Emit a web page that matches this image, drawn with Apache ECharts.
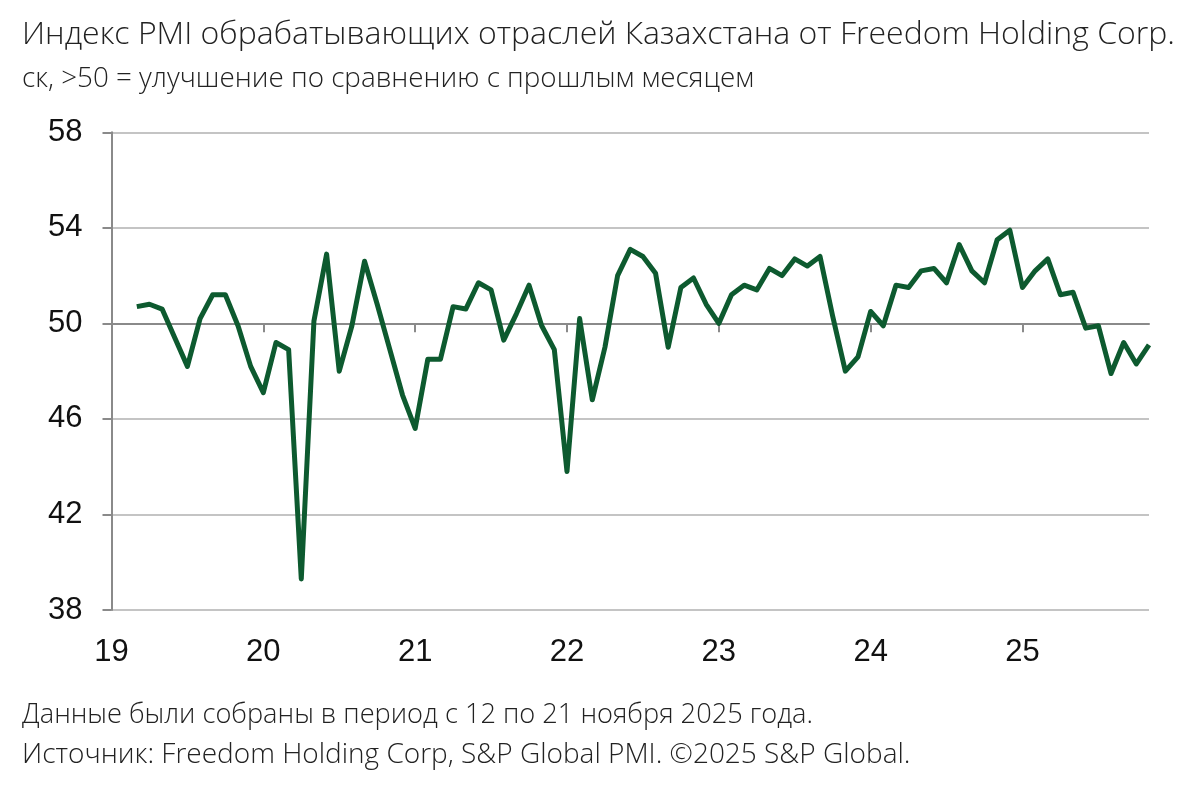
<!DOCTYPE html>
<html>
<head>
<meta charset="utf-8">
<script src="https://cdn.jsdelivr.net/npm/echarts@6/dist/echarts.min.js"></script>
<style>
  html, body { margin: 0; padding: 0; background: #fff; }
  #pmi_wrap { width: 1200px; height: 792px; }
</style>
</head>
<body>
<div id="pmi_wrap"></div>
<script>
// годы на оси и подписи к ним
var years = ['2019', '2020', '2021', '2022', '2023', '2024', '2025'];
var yearLabels = ['19', '20', '21', '22', '23', '24', '25'];
var lastMonth = 11; // ноябрь 2025

// PMI по месяцам, ряд начинается с марта 2019
var pmi2019 = [null, null, 50.7, 50.8, 50.6, 49.4, 48.2, 50.2, 51.2, 51.2, 49.9, 48.2];
var pmi2020 = [47.1, 49.2, 48.9, 39.3, 50.1, 52.9, 48.0, 49.9, 52.6, 50.8, 48.9, 47.0];
var pmi2021 = [45.6, 48.5, 48.5, 50.7, 50.6, 51.7, 51.4, 49.3, 50.4, 51.6, 49.9, 48.9];
var pmi2022 = [43.8, 50.2, 46.8, 49.0, 52.0, 53.1, 52.8, 52.1, 49.0, 51.5, 51.9, 50.8];
var pmi2023 = [50.0, 51.2, 51.6, 51.4, 52.3, 52.0, 52.7, 52.4, 52.8, 50.3, 48.0, 48.6];
var pmi2024 = [50.5, 49.9, 51.6, 51.5, 52.2, 52.3, 51.7, 53.3, 52.2, 51.7, 53.5, 53.9];
var pmi2025 = [51.5, 52.2, 52.7, 51.2, 51.3, 49.8, 49.9, 47.9, 49.2, 48.3, 49.1];

var pmi = [].concat(pmi2019, pmi2020, pmi2021, pmi2022, pmi2023, pmi2024, pmi2025);

// категории: YYYY-MM
var months = [];
years.forEach(function (y, i) {
    var n = (i === years.length - 1) ? lastMonth : 12;
    for (var m = 1; m <= n; m++) {
        months.push(y + '-' + (m < 10 ? '0' + m : m));
    }
});

var isYearStart = function (idx) { return idx % 12 === 0; };

var txtFont = '"Open Sans", sans-serif';

var pmiChart = echarts.init(document.getElementById('pmi_wrap'));
var pmi_option = {
    backgroundColor: '#fff',
    animation: false,
    textStyle: {fontFamily: 'Liberation Sans, Arial, sans-serif'},
    grid: {left: 111.5, right: 51, top: 132.3, bottom: 182},
    graphic: [
        {type: 'text', left: 22, top: 19, style: {
            text: 'Индекс PMI обрабатывающих отраслей Казахстана от Freedom Holding Corp.',
            font: '300 32px ' + txtFont, fill: '#222'}},
        {type: 'text', left: 22, top: 65, style: {
            text: 'ск, >50 = улучшение по сравнению с прошлым месяцем',
            font: '300 27.8px ' + txtFont, fill: '#222'}},
        {type: 'text', left: 22, top: 702, style: {
            text: 'Данные были собраны в период с 12 по 21 ноября 2025 года.',
            font: '300 27.2px ' + txtFont, fill: '#222'}},
        {type: 'text', left: 22, top: 741, style: {
            text: 'Источник: Freedom Holding Corp, S&P Global PMI. ©2025 S&P Global.',
            font: '300 28px ' + txtFont, fill: '#222'}}
    ],
    xAxis: [
        {
            // подписи лет внизу
            type: 'category',
            data: months,
            boundaryGap: false,
            axisLine: {show: false},
            axisTick: {show: false},
            splitLine: {show: false},
            axisLabel: {
                interval: function (idx) { return isYearStart(idx); },
                formatter: function (v) { return yearLabels[years.indexOf(v.slice(0, 4))]; },
                fontSize: 31, color: '#111', margin: 27
            }
        },
        {
            // линия на уровне 50 с делениями по годам
            type: 'category',
            data: months,
            boundaryGap: false,
            position: 'bottom',
            offset: -286.7,
            axisLine: {show: true, lineStyle: {color: '#8a8a8a', width: 2}},
            axisTick: {show: true, interval: function (idx) { return isYearStart(idx) && idx > 0; },
                length: 9, lineStyle: {color: '#8a8a8a', width: 2}},
            axisLabel: {show: false},
            splitLine: {show: false}
        }
    ],
    yAxis: {
        type: 'value',
        min: 38,
        max: 58,
        interval: 4,
        axisLine: {show: true, lineStyle: {color: '#8a8a8a', width: 2}},
        axisTick: {show: true, length: 9, lineStyle: {color: '#8a8a8a', width: 2}},
        axisLabel: {fontSize: 31, color: '#111', margin: 29},
        splitLine: {lineStyle: {color: '#c4c4c4', width: 2}}
    },
    series: [
        {
            name: 'PMI',
            type: 'line',
            xAxisIndex: 0,
            data: pmi,
            showSymbol: false,
            connectNulls: false,
            lineStyle: {color: '#0d5a2f', width: 5, join: 'round'},
            itemStyle: {color: '#0d5a2f'}
        }
    ]
};
pmiChart.setOption(pmi_option);
</script>
</body>
</html>
